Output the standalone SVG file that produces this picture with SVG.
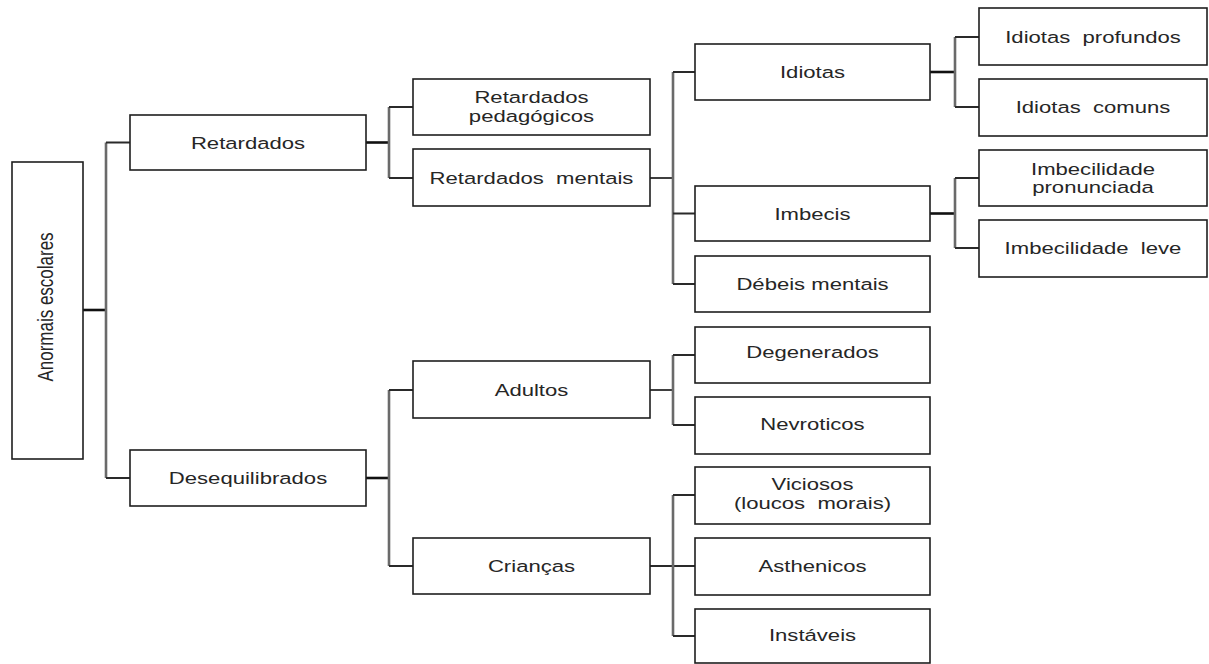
<svg xmlns="http://www.w3.org/2000/svg" width="1209" height="664" viewBox="0 0 1209 664">
<style>
.box{fill:#fff;stroke:#1e1e1e;stroke-width:1.6}
.t{font-family:"Liberation Sans",Arial,sans-serif;font-size:17px;fill:#262626;text-anchor:middle}
.v{fill:none;stroke:#6a6a6a;stroke-width:2.6}
.h{fill:none;stroke:#2a2a2a;stroke-width:1.8}
.p{fill:none;stroke:#111;stroke-width:2.6}
</style>
<rect width="1209" height="664" fill="#fff"/>
<g id="connectors">
<path class="p" d="M83 310H106"/>
<path class="v" d="M106 142.5V478"/>
<path class="h" d="M106 142.5H130M106 478H130"/>
<path class="p" d="M366 142.5H389"/>
<path class="v" d="M389 107V178"/>
<path class="h" d="M389 107H413M389 178H413"/>
<path class="h" d="M650 178H673"/>
<path class="v" d="M673 72V284"/>
<path class="h" d="M673 72H695M673 213.5H695M673 284H695"/>
<path class="p" d="M930 72H955"/>
<path class="v" d="M955 37V107"/>
<path class="h" d="M955 37H979M955 107H979"/>
<path class="p" d="M930 213.5H955"/>
<path class="v" d="M955 178V248"/>
<path class="h" d="M955 178H979M955 248H979"/>
<path class="p" d="M366 478H389"/>
<path class="v" d="M389 390V566"/>
<path class="h" d="M389 390H413M389 566H413"/>
<path class="h" d="M650 390H673"/>
<path class="v" d="M673 355V425"/>
<path class="h" d="M673 355H695M673 425H695"/>
<path class="h" d="M650 566H695"/>
<path class="v" d="M673 495V636"/>
<path class="h" d="M673 495H695M673 636H695"/>
</g>
<g id="n-root"><rect class="box" x="12" y="162" width="71" height="297"/><text class="t" transform="translate(53 307) scale(1.3 1) rotate(-90)">Anormais escolares</text></g>
<g id="n-retardados"><rect class="box" x="130" y="115" width="236" height="55"/><text class="t" transform="translate(248 148.5) scale(1.3 1)">Retardados</text></g>
<g id="n-desequilibrados"><rect class="box" x="130" y="450" width="236" height="56"/><text class="t" transform="translate(248 484) scale(1.3 1)">Desequilibrados</text></g>
<g id="n-ret-ped"><rect class="box" x="413" y="79" width="237" height="56"/><text class="t" transform="translate(531.5 103) scale(1.3 1)">Retardados</text><text class="t" transform="translate(531.5 121.5) scale(1.3 1)">pedagógicos</text></g>
<g id="n-ret-ment"><rect class="box" x="413" y="149" width="237" height="57"/><text class="t" transform="translate(531.5 183.5) scale(1.3 1)">Retardados&#160; mentais</text></g>
<g id="n-idiotas"><rect class="box" x="695" y="44" width="235" height="56"/><text class="t" transform="translate(812.5 78) scale(1.3 1)">Idiotas</text></g>
<g id="n-imbecis"><rect class="box" x="695" y="186" width="235" height="55"/><text class="t" transform="translate(812.5 219.5) scale(1.3 1)">Imbecis</text></g>
<g id="n-debeis"><rect class="box" x="695" y="256" width="235" height="56"/><text class="t" transform="translate(812.5 290) scale(1.3 1)">Débeis mentais</text></g>
<g id="n-id-prof"><rect class="box" x="979" y="8" width="228" height="57"/><text class="t" transform="translate(1093 42.5) scale(1.3 1)">Idiotas&#160; profundos</text></g>
<g id="n-id-com"><rect class="box" x="979" y="79" width="228" height="57"/><text class="t" transform="translate(1093 113) scale(1.3 1)">Idiotas&#160; comuns</text></g>
<g id="n-imb-pron"><rect class="box" x="979" y="150" width="228" height="56"/><text class="t" transform="translate(1093 174.5) scale(1.3 1)">Imbecilidade</text><text class="t" transform="translate(1093 192.5) scale(1.3 1)">pronunciada</text></g>
<g id="n-imb-leve"><rect class="box" x="979" y="220" width="228" height="57"/><text class="t" transform="translate(1093 254) scale(1.3 1)">Imbecilidade&#160; leve</text></g>
<g id="n-adultos"><rect class="box" x="413" y="361" width="237" height="57"/><text class="t" transform="translate(531.5 395.5) scale(1.3 1)">Adultos</text></g>
<g id="n-criancas"><rect class="box" x="413" y="538" width="237" height="56"/><text class="t" transform="translate(531.5 572) scale(1.3 1)">Crianças</text></g>
<g id="n-degenerados"><rect class="box" x="695" y="327" width="235" height="56"/><text class="t" transform="translate(812.5 358) scale(1.3 1)">Degenerados</text></g>
<g id="n-nevroticos"><rect class="box" x="695" y="397" width="235" height="57"/><text class="t" transform="translate(812.5 430) scale(1.3 1)">Nevroticos</text></g>
<g id="n-viciosos"><rect class="box" x="695" y="467" width="235" height="57"/><text class="t" transform="translate(812.5 490) scale(1.3 1)">Viciosos</text><text class="t" transform="translate(812.5 508.5) scale(1.3 1)">(loucos&#160; morais)</text></g>
<g id="n-asthenicos"><rect class="box" x="695" y="538" width="235" height="57"/><text class="t" transform="translate(812.5 571.5) scale(1.3 1)">Asthenicos</text></g>
<g id="n-instaveis"><rect class="box" x="695" y="609" width="235" height="54"/><text class="t" transform="translate(812.5 641) scale(1.3 1)">Instáveis</text></g>
</svg>
